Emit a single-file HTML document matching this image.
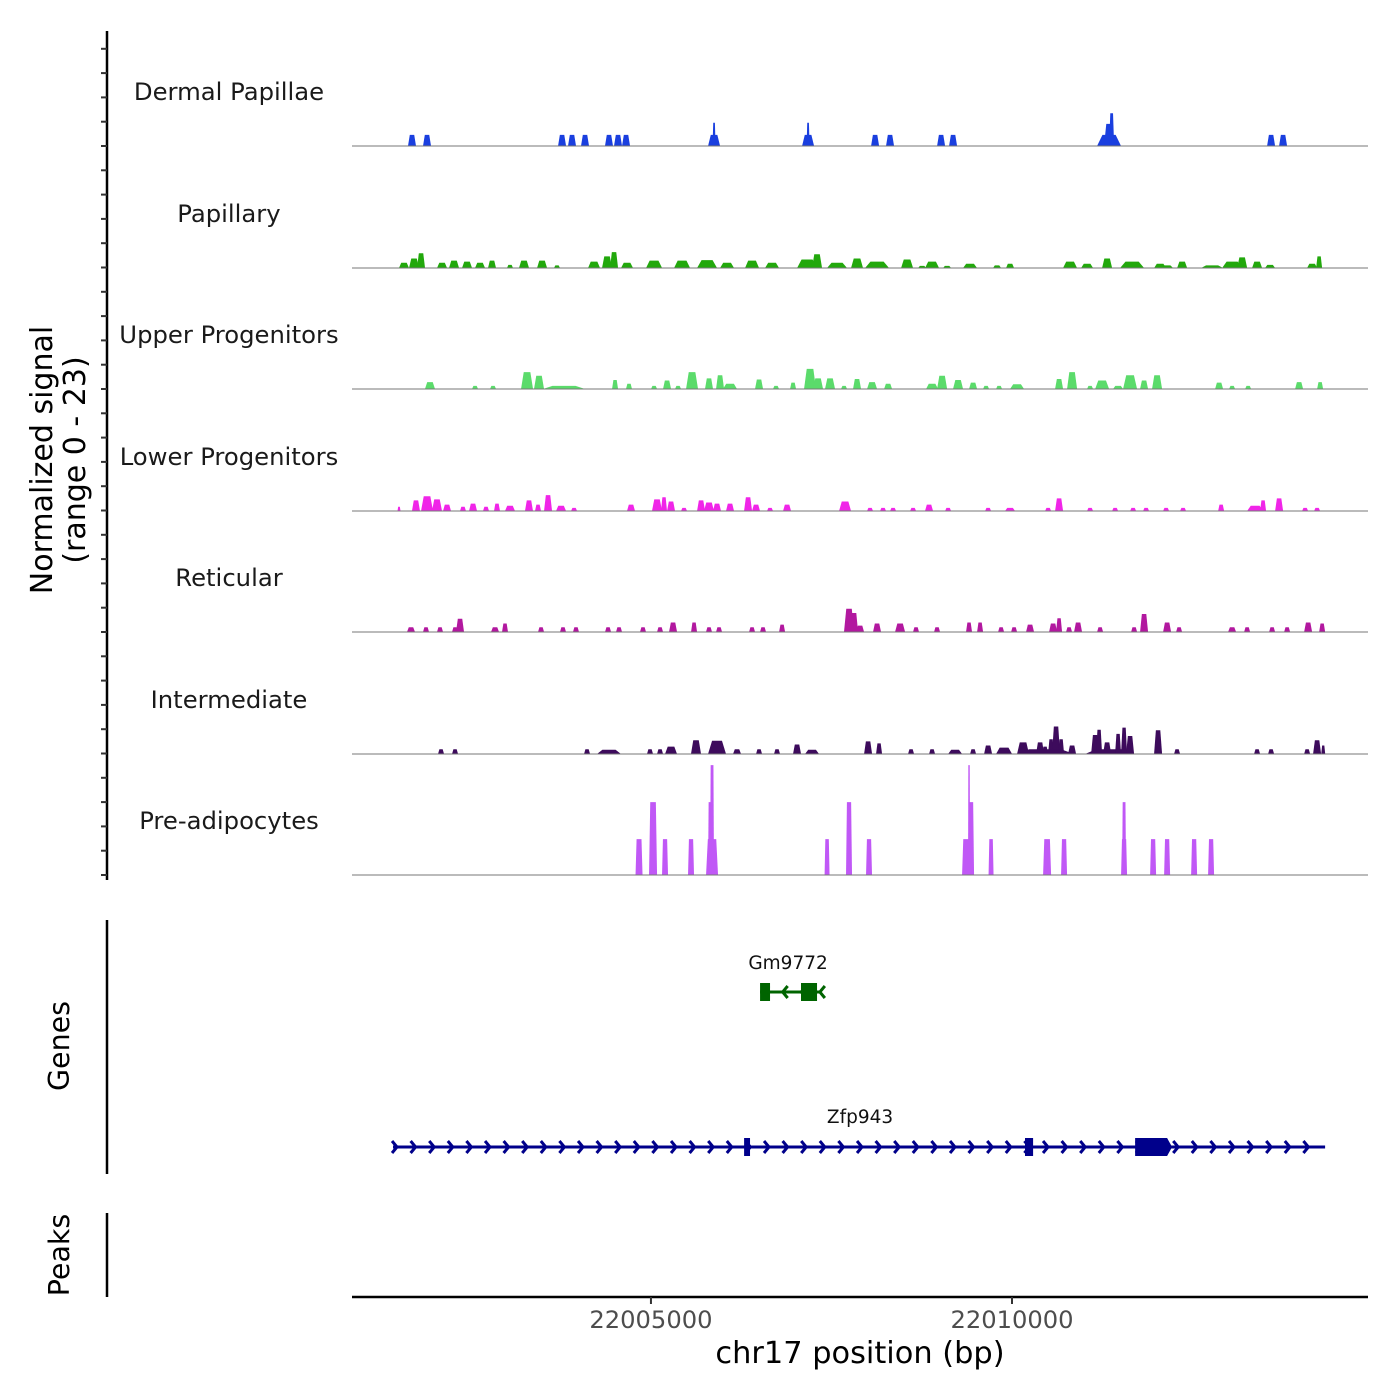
<!DOCTYPE html>
<html><head><meta charset="utf-8">
<style>
html,body{margin:0;padding:0;background:#fff;}
svg{display:block;font-family:"DejaVu Sans","Liberation Sans",sans-serif;}
</style></head>
<body>
<svg id="chart" width="1400" height="1400" viewBox="0 0 1400 1400">
<g id="tracks"></g>
<g id="genes"></g>
<g id="axes"></g>
</svg>
<script>
// ---- data (positions are bp offsets from regionStart; widths in bp; heights in normalized signal) ----
const regionStart = 22000860;
const regionEnd = 22014930;
const xTicks = [22005000, 22010000];
const xTickLabels = ["22005000", "22010000"];
const yRange = [0, 23];
const trackNames = ["Dermal Papillae","Papillary","Upper Progenitors","Lower Progenitors","Reticular","Intermediate","Pre-adipocytes"];
const trackColors = ["#1a3fdf","#22a80c","#5bdb6b","#f025e8","#b2189f","#3d0b5c","#c058f6"];

const dpPos = [831,1039,2909,3047,3227,3559,3684,3795,5014,5014,6316,6316,7244,7451,8158,8324,10484,10484,10520,12728,12894];
const dpWid = [111,111,111,111,111,111,111,111,166,42,166,42,111,111,111,111,332,139,69,111,111];
const dpVal = [2.1,2.1,2.1,2.1,2.1,2.1,2.1,2.1,2.1,4.4,2.1,4.4,2.1,2.1,2.1,2.1,2.1,4.2,6.2,2.1,2.1];

const paPos = [720,859,956,1247,1413,1593,1773,1939,2188,2382,2632,2839,3352,3532,3629,3809,4183,4571,4917,5194,5540,5817,6302,6440,6717,6994,7271,7687,7895,8033,8241,8559,8933,9113,9944,10180,10457,10803,11191,11288,11496,11911,12188,12327,12534,12714,13296,13393];
const paWid = [139,139,111,139,139,139,139,111,83,139,139,83,166,139,111,166,222,222,277,194,194,194,277,139,277,166,332,166,111,194,111,194,111,111,194,166,139,332,166,166,139,305,277,139,139,139,139,83];
const paVal = [1.0,1.8,2.8,1.0,1.4,1.2,1.0,1.4,0.6,1.4,1.4,0.5,1.2,2.2,3.0,1.0,1.4,1.4,1.5,1.0,1.4,1.0,1.6,2.6,1.0,1.8,1.2,1.6,0.4,1.2,0.4,0.8,0.5,0.8,1.2,0.8,1.8,1.2,0.8,0.5,1.2,0.5,1.2,2.0,1.2,0.6,0.8,2.2];

const upPos = [1080,1704,1953,2424,2590,2936,3643,3836,4183,4363,4515,4709,4944,5097,5235,5637,5872,6108,6343,6454,6620,6814,6994,7202,7424,8033,8172,8393,8601,8781,8961,9210,9792,9972,10221,10388,10609,10775,10969,11149,12008,12188,12410,13116,13407];
const upWid = [139,83,83,166,139,582,83,83,83,111,83,166,111,111,194,111,83,83,166,139,139,83,111,139,111,166,139,139,111,83,83,194,111,139,83,194,139,194,111,139,111,83,83,111,83];
const upVal = [1.3,0.6,0.6,3.2,2.5,0.6,1.7,1.0,0.6,1.6,0.6,3.2,2.0,2.6,1.0,1.8,0.6,1.2,3.8,2.0,2.0,0.6,1.9,1.3,1.0,1.0,2.5,1.7,1.2,0.6,0.6,0.9,1.9,3.2,0.6,1.6,0.6,2.6,1.6,2.6,1.2,0.6,0.6,1.3,1.3];

const loPos = [651,886,1039,1177,1316,1537,1676,1856,2008,2188,2451,2576,2715,2895,3075,3864,4224,4321,4418,4598,4834,4944,5055,5235,5485,5595,5789,6025,6828,7174,7354,7493,7770,7991,8255,8809,9113,9640,9792,10221,10568,10817,10997,11274,11509,12036,12507,12617,12839,13199,13365];
const loWid = [42,111,166,139,111,83,111,83,83,139,111,83,111,139,83,111,139,83,111,83,111,139,111,111,111,111,83,111,166,83,83,83,83,111,83,83,139,83,111,83,83,83,83,83,83,83,222,83,111,83,83];
const loVal = [0.8,2.0,2.8,2.2,1.2,0.8,1.4,0.8,1.4,1.0,2.0,1.2,3.0,1.0,0.6,1.2,2.2,2.6,1.8,0.6,2.0,1.6,1.4,1.4,2.6,1.2,0.6,1.2,1.8,0.6,0.6,0.6,0.6,1.2,0.6,0.6,0.6,0.6,2.4,0.6,0.6,0.6,0.6,0.6,0.6,1.2,1.0,2.0,2.4,0.6,0.6];

const rePos = [817,1025,1219,1427,1496,1981,2119,2618,2922,3102,3546,3698,4030,4266,4446,4737,4944,5083,5540,5692,5956,6883,6953,7036,7271,7590,7811,8102,8545,8698,8989,9169,9390,9709,9792,9930,10055,10360,10831,10969,11288,11454,12188,12396,12742,12950,13241,13435];
const reWid = [111,83,83,83,111,111,83,83,83,83,83,83,83,83,111,83,83,83,83,83,83,139,111,111,111,139,83,83,83,83,83,83,111,111,83,83,111,83,83,111,111,83,111,83,83,83,111,83];
const reVal = [0.9,0.9,0.9,0.9,2.5,0.9,1.6,0.9,0.9,0.9,0.9,0.9,0.9,0.9,1.8,1.8,0.9,0.9,0.9,0.9,1.4,4.4,3.6,1.2,1.6,1.6,0.9,0.9,1.8,1.8,0.9,0.9,1.4,1.6,2.6,0.9,1.8,0.9,0.9,3.4,1.8,0.9,0.9,0.9,0.9,0.9,1.8,1.6];

const inPos = [1233,1427,3255,3559,4127,4266,4418,4764,5055,5332,5637,5886,6163,6371,7147,7299,7742,8033,8352,8601,8809,9030,9293,9529,9598,9681,9750,9820,9972,9598,10291,10346,10457,10498,10609,10692,10775,11163,11426,12534,12728,13227,13365,13450];
const inWid = [83,83,83,332,83,83,166,139,249,111,83,83,111,194,111,83,83,83,194,83,111,222,166,111,83,83,111,83,111,803,111,83,111,693,83,83,111,111,83,83,83,83,111,55];
const inVal = [0.9,0.9,0.9,0.8,0.9,0.9,1.4,2.6,2.5,0.9,0.9,0.9,1.8,0.8,2.4,2.0,0.9,0.9,0.8,0.9,1.6,1.2,2.2,2.2,1.4,2.8,5.2,2.8,1.6,0.9,3.6,4.6,2.2,0.9,3.8,5.0,3.4,4.5,0.9,0.9,0.9,0.9,2.6,1.6];

const adPos = [3975,4169,4335,4695,4986,4958,4986,6579,6883,7160,8504,8573,8545,8850,9626,9861,10692,10692,11094,11288,11662,11897];
const adWid = [97,111,83,83,166,55,55,69,83,83,111,83,28,69,111,83,83,55,83,83,83,83];
const adVal = [6.8,13.8,6.8,6.8,6.8,13.8,20.8,6.8,13.8,6.8,6.8,13.8,20.8,6.8,6.8,6.8,6.8,13.8,6.8,6.8,6.8,6.8];

const geneNames = ["Gm9772","Zfp943"];
const geneStart = [5651,568];
const geneEnd = [6482,13476];
const geneStrand = [-1,1];
const gm9772ExonStart = [5651,6218];
const gm9772ExonEnd = [5789,6440];
const zfp943ExonStart = [5430,9320,10845];
const zfp943ExonEnd = [5512,9432,11357];
const zfp943ExonThick = [0,0,1];

const series = [[dpPos,dpWid,dpVal],[paPos,paWid,paVal],[upPos,upWid,upVal],[loPos,loWid,loVal],[rePos,reWid,reVal],[inPos,inWid,inVal],[adPos,adWid,adVal]];

// ---- layout ----
const NS = "http://www.w3.org/2000/svg";
const X0 = 352, X1 = 1368;
const trackBase = [146,268,389,511,632,754,875];
const trackH = 121.5;
const xScale = bp => X0 + (bp - regionStart) / (regionEnd - regionStart) * (X1 - X0);
const xOff = off => xScale(regionStart + off);
const wScale = w => w / (regionEnd - regionStart) * (X1 - X0);
const yScale = (v, t) => trackBase[t] - (v - yRange[0]) / (yRange[1] - yRange[0]) * trackH;

function mk(tag, attrs, parent) {
  const e = document.createElementNS(NS, tag);
  for (const k in attrs) e.setAttribute(k, attrs[k]);
  parent.appendChild(e);
  return e;
}
const tracks = document.getElementById('tracks');
const genes = document.getElementById('genes');
const axes = document.getElementById('axes');

series.forEach((s, t) => {
  const g = mk('g', {}, tracks);
  
  
  const lab = mk('text', {x: 229, y: trackBase[t] - 46, 'text-anchor': 'middle', 'font-size': 24.3, fill: '#1a1a1a'}, g);
  lab.textContent = trackNames[t];
  
  
  const [pos, wid, val] = s;
  for (let i = 0; i < pos.length; i++) {
    const cx = xOff(pos[i]);
    const w = Math.max(wScale(wid[i]), 1.5);
    const top = yScale(val[i], t);
    const b = trackBase[t];
    const tw = t === 6 ? w * 0.7 : w * 0.55;
    const p = mk('polygon', {points: `${cx - w/2},${b} ${cx - tw/2},${top} ${cx + tw/2},${top} ${cx + w/2},${b}`, fill: trackColors[t]}, g);
    
    
  }
  const bl = mk('line', {x1: X0, x2: X1, y1: trackBase[t], y2: trackBase[t], stroke: '#777', 'stroke-width': 1}, g);
  
  
});

// ---- genes ----
function drawGene(idx, y, color, exS, exE, exThick, labelY) {
  const g = mk('g', {}, genes);
  
  
  const xa = xOff(geneStart[idx]), xb = xOff(geneEnd[idx]);
  mk('line', {x1: xa, x2: xb, y1: y, y2: y, stroke: color, 'stroke-width': 3}, g);
  const dir = geneStrand[idx];
  const step = 18.6;
  for (let x = xa + 4; x <= xb + 1; x += step) {
    const a = mk('polyline', {points: `${x - 5*dir},${y - 6} ${x},${y} ${x - 5*dir},${y + 6}`, fill: 'none', stroke: color, 'stroke-width': 3}, g);
    
    
  }
  for (let i = 0; i < exS.length; i++) {
    const x1 = xOff(exS[i]), x2 = xOff(exE[i]);
    const h = 18;
    let e;
    if (exThick[i]) {
      e = mk('polygon', {points: `${x1},${y - h/2} ${x2 - 5},${y - h/2} ${x2},${y} ${x2 - 5},${y + h/2} ${x1},${y + h/2}`, fill: color}, g);
    } else {
      e = mk('rect', {x: x1, y: y - h/2, width: Math.max(x2 - x1, 4), height: h, fill: color}, g);
    }
    
    
  }
  const lb = mk('text', {x: (xa + xb) / 2 + (idx === 1 ? 1 : -2), y: labelY, 'text-anchor': 'middle', 'font-size': 18.5, fill: '#111'}, g);
  lb.textContent = geneNames[idx];
  
  
}
drawGene(0, 992, '#006400', gm9772ExonStart, gm9772ExonEnd, [0, 0], 969);
drawGene(1, 1147, '#00008b', zfp943ExonStart, zfp943ExonEnd, zfp943ExonThick, 1123);

// ---- axes ----
const ya = mk('line', {x1: 107, x2: 107, y1: 31, y2: 880, stroke: '#000', 'stroke-width': 2.5}, axes);


for (let y = 875; y >= 31; y -= 24.3) {
  const tk = mk('line', {x1: 101, x2: 107, y1: y, y2: y, stroke: '#333', 'stroke-width': 2}, axes);
  
  
}
const yt = mk('text', {x: 0, y: 0, 'text-anchor': 'middle', 'font-size': 30, fill: '#000', transform: 'translate(52,460) rotate(-90)'}, axes);


yt.innerHTML = '<tspan x="0" dy="0">Normalized signal</tspan><tspan x="0" dy="33">(range 0 - 23)</tspan>';

const ga = mk('line', {x1: 107, x2: 107, y1: 920, y2: 1174, stroke: '#000', 'stroke-width': 2.5}, axes);


const gt = mk('text', {'text-anchor': 'middle', 'font-size': 28.5, fill: '#000', transform: 'translate(69,1046) rotate(-90)'}, axes);
gt.textContent = 'Genes';



const pa = mk('line', {x1: 107, x2: 107, y1: 1213, y2: 1297, stroke: '#000', 'stroke-width': 2.5}, axes);


const pt = mk('text', {'text-anchor': 'middle', 'font-size': 28.5, fill: '#000', transform: 'translate(69,1255) rotate(-90)'}, axes);
pt.textContent = 'Peaks';



const xa = mk('line', {x1: X0, x2: X1, y1: 1297, y2: 1297, stroke: '#000', 'stroke-width': 2.5}, axes);


xTicks.forEach((v, i) => {
  const x = xScale(v);
  const tk = mk('line', {x1: x, x2: x, y1: 1297, y2: 1304, stroke: '#333', 'stroke-width': 2}, axes);
  
  
  const tl = mk('text', {x: x, y: 1328, 'text-anchor': 'middle', 'font-size': 24.2, fill: '#4d4d4d'}, axes);
  tl.textContent = xTickLabels[i];
  
  
});
const xt = mk('text', {x: 860, y: 1363, 'text-anchor': 'middle', 'font-size': 30.4, fill: '#000'}, axes);
xt.textContent = 'chr17 position (bp)';


</script>
</body></html>
